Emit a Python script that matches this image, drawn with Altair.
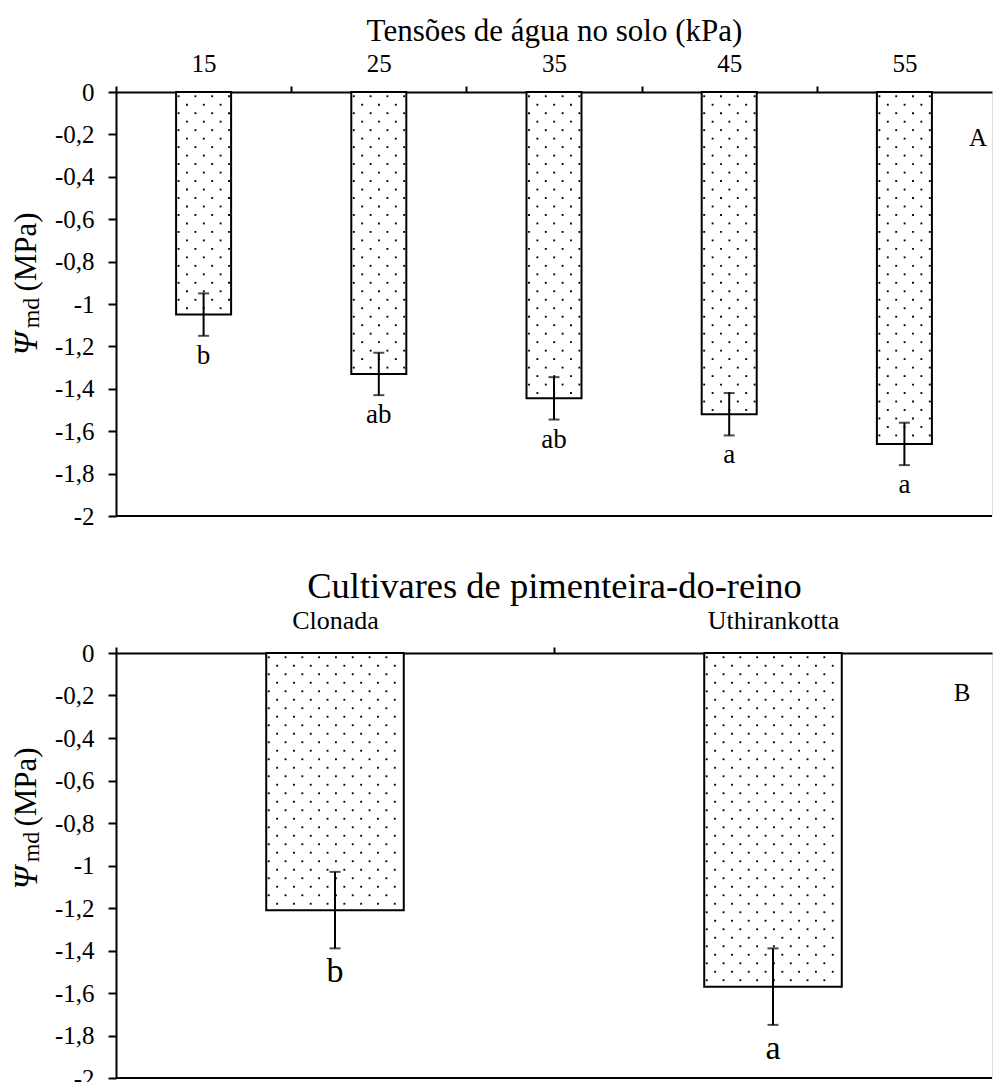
import altair as alt
import pandas as pd

SERIF = "Liberation Serif"

# ---- Panel A data: soil water tension ----
tensoes = ["15", "25", "35", "45", "55"]
psi_a = [-1.05, -1.33, -1.445, -1.52, -1.66]
err_a = [0.10, 0.10, 0.10, 0.10, 0.10]
letras_a = ["b", "ab", "ab", "a", "a"]

# ---- Panel B data: cultivars ----
cultivares = ["Clonada", "Uthirankotta"]
psi_b = [-1.21, -1.57]
err_b = [0.18, 0.18]
letras_b = ["b", "a"]

y_ticks = [0, -0.2, -0.4, -0.6, -0.8, -1.0, -1.2, -1.4, -1.6, -1.8, -2.0]
titles = ["Tensões de água no solo (kPa)", "Cultivares de pimenteira-do-reino"]
tags = ["A", "B"]
ytitle_parts = ["(MPa)", "md", "\u03a8"]

W = 876
PAD = 0.343  # outer gap fraction of each category slot

label_expr = "replace(replace(format(datum.value, '.2~r'), '.', ','), '\u2212', '-')"


def panel(cats, vals, errs, letters, title, tag, title_size, label_size, letter_size,
          tag_x, tag_y, yt_pos, title_pad, lab_pad, height):
    n = len(cats)
    step = W / n
    df = pd.DataFrame({"idx": list(range(n)), "cat": cats, "val": vals, "err": errs, "let": letters})

    xscale = alt.Scale(domain=[0, n], nice=False, zero=False)
    yscale = alt.Scale(domain=[-2, 0], nice=False, zero=False)

    cat_js = "[" + ",".join("'" + c + "'" for c in cats) + "]"
    x_vals = [i * 0.5 for i in range(2 * n)]
    x_axis = alt.Axis(
        orient="top", title=title, titleFontSize=title_size, titleFont=SERIF,
        titleFontWeight="normal", titleColor="black", titlePadding=title_pad,
        values=x_vals,
        labelExpr=f"(datum.value % 1) == 0.5 ? {cat_js}[floor(datum.value)] : ''",
        labelFontSize=label_size, labelFont=SERIF, labelColor="black", labelAngle=0,
        labelPadding=lab_pad, labelFlush=False, labelOverlap=False, labelBound=False,
        tickOpacity={"condition": {"test": "(datum.value % 1) != 0", "value": 0}, "value": 1},
        tickSize=6, tickWidth=2, tickColor="black",
        domainColor="black", domainWidth=2, grid=False,
    )
    y_axis = alt.Axis(
        values=y_ticks, labelExpr=label_expr, title=None,
        labelFontSize=25, labelFont=SERIF, labelColor="black", labelPadding=14,
        tickSize=8, tickWidth=2, tickColor="black", domainColor="black", domainWidth=2,
        grid=False,
    )

    base = alt.Chart(df).transform_calculate(
        left=f"datum.idx + {PAD}",
        right=f"datum.idx + 1 - {PAD}",
        mid="datum.idx + 0.5",
        lo="datum.val - datum.err",
        hi="datum.val + datum.err",
    )

    bars = base.mark_bar(fill="white", stroke="black", strokeWidth=2).encode(
        x=alt.X("left:Q", scale=xscale, axis=x_axis),
        x2="right:Q",
        y=alt.Y("val:Q", scale=yscale, axis=y_axis),
        y2=alt.datum(0),
    )

    bw = (1 - 2 * PAD) * step
    dots = (
        base.transform_calculate(k="sequence(0, ceil((-datum.val - 0.03) / 0.04))")
        .transform_flatten(["k"])
        .transform_calculate(m="sequence(0, 20)")
        .transform_flatten(["m"])
        .transform_calculate(
            py="-(datum.k * 0.04 + 0.02)",
            px="(datum.k % 2) * 8.4 + 2.5 + datum.m * 16.8",
        )
        .transform_filter(f"datum.px < {bw} - 2")
        .transform_calculate(dxv=f"datum.left + datum.px / {step}")
        .mark_square(filled=True, size=3.5, color="black", opacity=1)
        .encode(
            x=alt.X("dxv:Q", scale=xscale),
            y=alt.Y("py:Q", scale=yscale),
        )
    )

    rule = base.mark_rule(color="black", strokeWidth=2).encode(
        x=alt.X("mid:Q", scale=xscale), y=alt.Y("lo:Q", scale=yscale), y2="hi:Q"
    )
    cap_lo = base.mark_tick(color="black", thickness=2, size=11, orient="horizontal").encode(
        x=alt.X("mid:Q", scale=xscale), y=alt.Y("lo:Q", scale=yscale)
    )
    cap_hi = base.mark_tick(color="black", thickness=2, size=11, orient="horizontal").encode(
        x=alt.X("mid:Q", scale=xscale), y=alt.Y("hi:Q", scale=yscale)
    )
    txt = base.mark_text(baseline="top", dy=7, fontSize=letter_size, font=SERIF, color="black").encode(
        x=alt.X("mid:Q", scale=xscale), y=alt.Y("lo:Q", scale=yscale), text="let:N"
    )

    bottom = alt.Chart(pd.DataFrame({"b": [-2]})).mark_rule(color="black", strokeWidth=2).encode(
        y=alt.Y("b:Q", scale=yscale)
    )

    tagc = alt.Chart(pd.DataFrame({"t": [tag]})).mark_text(
        fontSize=25, font=SERIF, color="black", baseline="middle", align="center"
    ).encode(text="t:N", x=alt.value(tag_x), y=alt.value(tag_y))

    yt_main = alt.Chart(pd.DataFrame({"t": [ytitle_parts[0]]})).mark_text(
        fontSize=31, font=SERIF, color="black", angle=270, align="center", baseline="alphabetic"
    ).encode(text="t:N", x=alt.value(-80), y=alt.value(yt_pos[0]))
    yt_sub = alt.Chart(pd.DataFrame({"t": [ytitle_parts[1]]})).mark_text(
        fontSize=24, font=SERIF, color="black", angle=270, align="center", baseline="alphabetic"
    ).encode(text="t:N", x=alt.value(-77), y=alt.value(yt_pos[1]))
    yt_psi = alt.Chart(pd.DataFrame({"t": [ytitle_parts[2]]})).mark_text(
        fontSize=33, font=SERIF, fontStyle="italic", color="black", angle=270, align="center",
        baseline="alphabetic"
    ).encode(text="t:N", x=alt.value(-79), y=alt.value(yt_pos[2]))

    return alt.layer(bars, dots, rule, cap_lo, cap_hi, txt, bottom, tagc, yt_main, yt_sub, yt_psi).properties(
        width=W, height=height
    )


pa = panel(tensoes, psi_a, err_a, letras_a, titles[0], tags[0], 31, 25, 27, 862, 46,
           [160, 221, 252], 4, 10, 424)
pb = panel(cultivares, psi_b, err_b, letras_b, titles[1], tags[1], 36.5, 26, 34, 846, 40,
           [134, 194, 225], 2, 14, 425)

chart = alt.vconcat(pa, pb, spacing=37).properties(
    padding={"left": 2, "top": 6, "right": 0, "bottom": -10}
).configure_view(stroke=None).configure(font=SERIF)

chart.save("out.html", embed_options={"renderer": "svg", "actions": False})
